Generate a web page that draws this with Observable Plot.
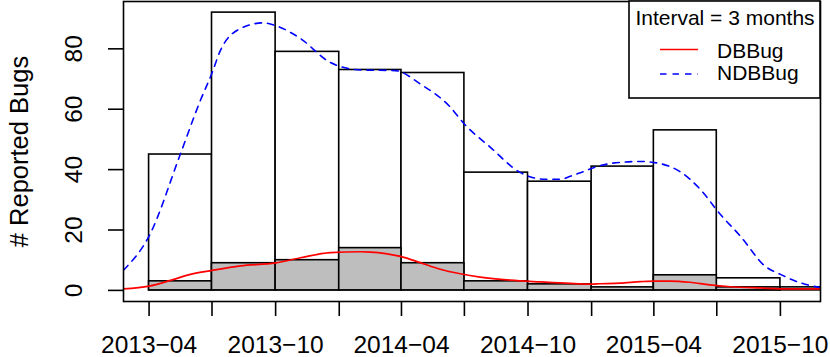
<!DOCTYPE html>
<html>
<head>
<meta charset="utf-8">
<script src="https://cdn.jsdelivr.net/npm/d3@7"></script>
<script src="https://cdn.jsdelivr.net/npm/@observablehq/plot@0.6"></script>
<style>
  html, body { margin: 0; padding: 0; background: #fff; }
  #chart { width: 830px; height: 357px; }
</style>
</head>
<body>
<div id="chart"></div>
<script>
// ---- data ----
const binEdges = ["2013-04-01","2013-07-01","2013-10-01","2014-01-01","2014-04-01","2014-07-01",
                  "2014-10-01","2015-01-01","2015-04-01","2015-07-01","2015-10-01","2016-01-01"];
const ndbCounts = [45, 92, 79, 73, 72, 39, 36, 41, 53, 4, 1];
const dbCounts  = [3, 9, 10, 14, 9, 3, 2, 1, 5, 1, 0];

const ndbDates = ["2013-02-23","2013-04-01","2013-05-16","2013-06-14","2013-07-01","2013-07-13","2013-08-11",
  "2013-09-13","2013-10-01","2013-11-06","2013-12-19","2014-02-01","2014-03-23","2014-04-28","2014-06-11",
  "2014-06-29","2014-08-08","2014-09-20","2014-10-26","2014-11-17","2014-12-01","2014-12-16","2015-01-13",
  "2015-02-11","2015-03-13","2015-04-10","2015-05-09","2015-06-07","2015-07-06","2015-08-04","2015-09-09",
  "2015-10-01","2015-10-30","2015-11-28"];
const ndbDensity = [6.7, 18, 45, 62.8, 72, 79.4, 86.7,
  88.6, 87.7, 83.4, 75.5, 73, 72.8, 68.4, 60.6,
  55.6, 47.3, 39, 36.8, 36.8, 37.8, 39.0, 41.3,
  42.4, 42.7, 42.0, 39.3, 33.5, 25.2, 18, 8,
  5.3, 2.5, 0.9];

const dbDates = ["2013-02-23","2013-04-01","2013-05-02","2013-05-31","2013-07-01","2013-08-11","2013-10-01",
  "2013-11-06","2013-12-19","2014-02-01","2014-02-15","2014-03-09","2014-04-01","2014-04-28","2014-05-27",
  "2014-06-25","2014-07-24","2014-09-05","2014-10-19","2014-12-01","2014-12-30","2015-01-13","2015-02-11",
  "2015-03-13","2015-04-03","2015-04-24","2015-05-23","2015-06-21","2015-07-21","2015-09-02","2015-10-15",
  "2015-11-28"];
const dbDensity = [0.5, 1.4, 3.3, 5.3, 6.6, 8.1, 9.1,
  10.8, 12.5, 12.8, 12.7, 12.2, 11.2, 9.2, 7,
  5.5, 4.4, 3.4, 2.8, 2.3, 2.1, 2.2, 2.4,
  2.9, 3.1, 3.1, 2.7, 1.8, 1.2, 0.8, 0.5,
  0.5];

const xTickDates  = ["2013-04-01","2013-07-01","2013-10-01","2014-01-01","2014-04-01","2014-07-01",
                     "2014-10-01","2015-01-01","2015-04-01","2015-07-01","2015-10-01"];
const xLabelDates = ["2013-04-01","2013-10-01","2014-04-01","2014-10-01","2015-04-01","2015-10-01"];
const yTicks = [0, 20, 40, 60, 80];
const xDomain = ["2013-02-23","2015-11-28"];
const yDomain = [-3.68, 95.68];
const yLabel = "# Reported Bugs";
const legendTitle = "Interval = 3 months";
const seriesNames = ["DBBug", "NDBBug"];

// ---- build tables ----
const P = s => new Date(s + "T00:00:00Z");
const bins = ndbCounts.map((n, i) => ({
  start: P(binEdges[i]), end: P(binEdges[i + 1]), ndb: n, db: dbCounts[i]
}));
const ndbCurve = ndbDates.map((d, i) => ({date: P(d), v: ndbDensity[i]}));
const dbCurve = dbDates.map((d, i) => ({date: P(d), v: dbDensity[i]}));
const fmt = d => d3.utcFormat("%Y-%m")(d).replace("-", "\u2212");

const FONT = "'Liberation Sans', Arial, Helvetica, sans-serif";
const W = 830, H = 357;
const chart = Plot.plot({
  width: W, height: H,
  marginLeft: 123, marginRight: 10, marginTop: 1, marginBottom: 56,
  style: {fontFamily: FONT, fontSize: "24px", color: "black", background: "white"},
  x: {type: "utc", domain: xDomain.map(P)},
  y: {domain: yDomain},
  marks: [
    Plot.rectY(bins, {x1: "start", x2: "end", y: "ndb", fill: "white", stroke: "black", strokeWidth: 1.6, clip: true}),
    Plot.rectY(bins, {x1: "start", x2: "end", y: "db", fill: "#BEBEBE", stroke: "black", strokeWidth: 1.6, clip: true}),
    Plot.line(ndbCurve, {x: "date", y: "v", stroke: "#0000FF", strokeWidth: 1.6, strokeDasharray: "6.5,6", curve: "monotone-x", clip: true}),
    Plot.line(dbCurve, {x: "date", y: "v", stroke: "#FF0000", strokeWidth: 1.7, curve: "monotone-x", clip: true}),
    Plot.frame({stroke: "black", strokeWidth: 1.6}),
    Plot.axisX({ticks: xTickDates.map(P), tickSize: 15, tickFormat: () => "", label: null, strokeWidth: 1.6}),
    Plot.axisX({ticks: xLabelDates.map(P), tickSize: 0, tickPadding: 34, tickFormat: fmt, label: null, fontSize: 24.5}),
    Plot.axisY({ticks: yTicks, tickSize: 15, tickFormat: () => "", label: null, strokeWidth: 1.6}),
    Plot.text(yTicks, {y: d => d, text: d => String(d), frameAnchor: "left", textAnchor: "middle", lineAnchor: "middle", dx: -49, rotate: -90, fontSize: 24.5, fill: "black"}),
    Plot.text([yLabel], {text: d => d, frameAnchor: "left", textAnchor: "middle", lineAnchor: "middle", dx: -104, rotate: -90, fontSize: 25.5, fill: "black"})
  ]
});
document.getElementById("chart").appendChild(chart);

// ---- legend box (top right) ----
const svg = d3.select(chart);
const lg = svg.append("g").attr("font-family", FONT).attr("fill", "black");
lg.append("rect").attr("x", 629).attr("y", 1).attr("width", 191).attr("height", 97)
  .attr("fill", "white").attr("stroke", "black").attr("stroke-width", 1.6);
lg.append("text").attr("x", 725).attr("y", 18).attr("dy", "0.35em").attr("text-anchor", "middle")
  .attr("font-size", 21).text(legendTitle);
lg.append("line").attr("x1", 660).attr("x2", 698).attr("y1", 49.5).attr("y2", 49.5)
  .attr("stroke", "#FF0000").attr("stroke-width", 1.7);
lg.append("line").attr("x1", 660).attr("x2", 698).attr("y1", 74).attr("y2", 74)
  .attr("stroke", "#0000FF").attr("stroke-width", 1.6).attr("stroke-dasharray", "6.5,6");
lg.append("text").attr("x", 717).attr("y", 51).attr("dy", "0.35em").attr("text-anchor", "start")
  .attr("font-size", 21).text(seriesNames[0]);
lg.append("text").attr("x", 717).attr("y", 73).attr("dy", "0.35em").attr("text-anchor", "start")
  .attr("font-size", 21).text(seriesNames[1]);
</script>
</body>
</html>
